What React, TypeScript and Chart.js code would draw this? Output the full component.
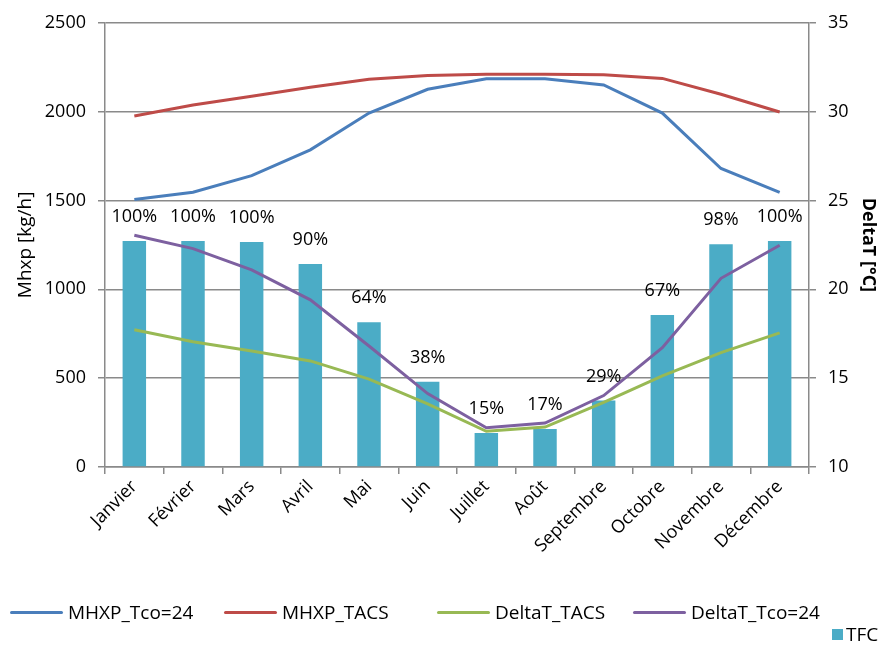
import React, { useEffect, useRef } from "react";
import { Chart, registerables } from "chart.js";

Chart.register(...registerables);

const months = ["Janvier", "Février", "Mars", "Avril", "Mai", "Juin", "Juillet", "Août", "Septembre", "Octobre", "Novembre", "Décembre"];
const mhxpTco24 = [1505, 1546, 1640, 1785, 1992, 2126, 2185, 2185, 2150, 1992, 1680, 1546];
const mhxpTacs = [1975, 2037, 2087, 2137, 2182, 2204, 2210, 2210, 2208, 2187, 2098, 1998];
const deltaTTacs = [17.72, 17.05, 16.53, 15.97, 14.95, 13.55, 12.01, 12.25, 13.64, 15.13, 16.44, 17.55];
const deltaTTco24 = [23.04, 22.29, 21.09, 19.41, 16.81, 14.13, 12.21, 12.47, 14.02, 16.71, 20.62, 22.48];
const tfc = [1272, 1272, 1267, 1142, 815, 480, 191, 214, 374, 855, 1254, 1272];
const tfcPct = ["100%", "100%", "100%", "90%", "64%", "38%", "15%", "17%", "29%", "67%", "98%", "100%"];

const leftTicks = [0, 500, 1000, 1500, 2000, 2500];
const rightTicks = [10, 15, 20, 25, 30, 35];

const FONT = "'Open Sans', sans-serif";
const GRID = "#8a8a8a";
const BLUE = "#4a7ebb";
const RED = "#be4b48";
const GREEN = "#98b954";
const PURPLE = "#7d60a0";
const BAR = "#4bacc6";

const barLabelPlugin = {
  id: "barLabels",
  afterDatasetDraw(chart: any, args: any) {
    const ds = chart.data.datasets[args.index];
    if (ds.type !== "bar") return;
    const ctx = chart.ctx;
    ctx.save();
    ctx.font = `18px ${FONT}`;
    ctx.fillStyle = "#000";
    ctx.textAlign = "center";
    ctx.textBaseline = "middle";
    args.meta.data.forEach((el: any, i: number) => {
      ctx.fillText(tfcPct[i], el.x, el.y - 24);
    });
    ctx.restore();
  },
};

export default function App() {
  const ref = useRef<HTMLCanvasElement | null>(null);
  useEffect(() => {
    document.body.style.margin = "0";
    const chart = new Chart(ref.current!, {
      type: "bar",
      data: {
        labels: months,
        datasets: [
          { type: "line", label: "MHXP_Tco=24", data: mhxpTco24, yAxisID: "y", borderColor: BLUE, backgroundColor: BLUE, borderWidth: 3, pointRadius: 0, tension: 0, order: 1 },
          { type: "line", label: "MHXP_TACS", data: mhxpTacs, yAxisID: "y", borderColor: RED, backgroundColor: RED, borderWidth: 3, pointRadius: 0, tension: 0, order: 1 },
          { type: "line", label: "DeltaT_TACS", data: deltaTTacs, yAxisID: "y1", borderColor: GREEN, backgroundColor: GREEN, borderWidth: 3, pointRadius: 0, tension: 0, order: 1 },
          { type: "line", label: "DeltaT_Tco=24", data: deltaTTco24, yAxisID: "y1", borderColor: PURPLE, backgroundColor: PURPLE, borderWidth: 3, pointRadius: 0, tension: 0, order: 1 },
          { type: "bar", label: "TFC", data: tfc, yAxisID: "y", backgroundColor: BAR, barPercentage: 0.4, categoryPercentage: 1, order: 10 },
        ] as any,
      },
      options: {
        responsive: false,
        animation: false,
        layout: { padding: { top: 19, left: 0, right: 0, bottom: 0 } },
        plugins: { legend: { display: false }, tooltip: { enabled: false } },
        scales: {
          x: {
            offset: true,
            grid: { display: true, offset: true, drawOnChartArea: false, drawTicks: true, tickLength: 7, color: GRID, lineWidth: 1.5 },
            border: { color: GRID, width: 1.5 },
            ticks: { color: "#000", font: { family: FONT, size: 18 }, maxRotation: 45, minRotation: 45, padding: 2, autoSkip: false },
            afterFit: (s: any) => { s.height = 178; },
          },
          y: {
            position: "left",
            min: 0,
            max: 2500,
            afterBuildTicks: (s: any) => { s.ticks = leftTicks.map((v) => ({ value: v })); },
            grid: { color: GRID, lineWidth: 1.5, tickLength: 7 },
            border: { color: GRID, width: 1.5 },
            ticks: { color: "#000", font: { family: FONT, size: 18 }, padding: 12, callback: (v: any) => String(v) },
            title: { display: true, text: "Mhxp [kg/h]", color: "#000", font: { family: FONT, size: 19 }, padding: { top: 14, bottom: 0 } },
            afterFit: (s: any) => { s.width = 105; },
          },
          y1: {
            position: "right",
            min: 10,
            max: 35,
            afterBuildTicks: (s: any) => { s.ticks = rightTicks.map((v) => ({ value: v })); },
            grid: { drawOnChartArea: false, color: GRID, lineWidth: 1.5, tickLength: 7 },
            border: { color: GRID, width: 1.5 },
            ticks: { color: "#000", font: { family: FONT, size: 18 }, padding: 12, callback: (v: any) => String(v) },
            title: { display: true, text: "DeltaT [°C]", color: "#000", font: { family: FONT, size: 18, weight: "bold" }, padding: { top: 2, bottom: 0 } },
            afterFit: (s: any) => { s.width = 72; },
          },
        },
      } as any,
      plugins: [barLabelPlugin],
    });
    return () => chart.destroy();
  }, []);

  const legendLine = (color: string) => (
    <span style={{ display: "inline-block", width: 53, height: 3, background: color, borderRadius: 2, marginRight: 5, verticalAlign: "middle" }} />
  );
  const textStyle: React.CSSProperties = { fontFamily: FONT, fontSize: 19, color: "#000", verticalAlign: "middle" };
  const items = [
    { label: "MHXP_Tco=24", color: BLUE, left: 10 },
    { label: "MHXP_TACS", color: RED, left: 224 },
    { label: "DeltaT_TACS", color: GREEN, left: 437 },
    { label: "DeltaT_Tco=24", color: PURPLE, left: 633 },
  ];

  return (
    <div style={{ position: "fixed", left: 0, top: 0, width: 881, height: 645, background: "#fff" }}>
      <canvas ref={ref} width={881} height={645} style={{ display: "block" }} />
      {items.map((it) => (
        <div key={it.label} style={{ position: "absolute", left: it.left, top: 598, height: 28, display: "flex", alignItems: "center", whiteSpace: "nowrap" }}>
          {legendLine(it.color)}
          <span style={textStyle}>{it.label}</span>
        </div>
      ))}
      <div style={{ position: "absolute", left: 832, top: 622, height: 24, display: "flex", alignItems: "center", whiteSpace: "nowrap" }}>
        <span style={{ display: "inline-block", width: 11, height: 11, background: BAR, marginRight: 3 }} />
        <span style={textStyle}>TFC</span>
      </div>
    </div>
  );
}
